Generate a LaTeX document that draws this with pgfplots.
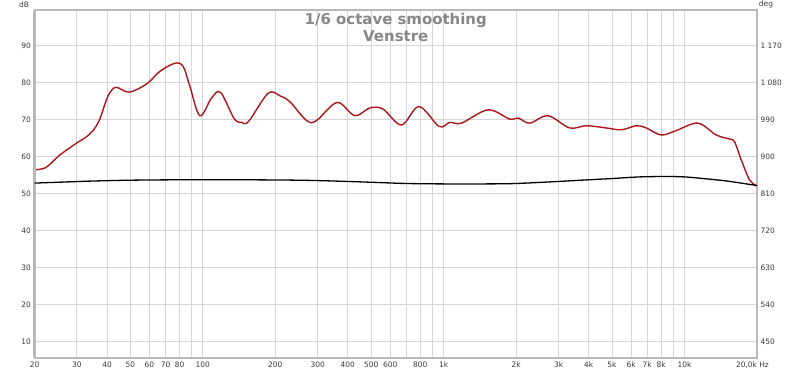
\documentclass[border=0pt]{standalone}
\usepackage{pgfplots}
\pgfplotsset{compat=1.18}
\usepackage{fontspec}
\setmainfont{DejaVu Sans}
\definecolor{curvered}{RGB}{172,22,28}
\definecolor{gridgray}{RGB}{214,214,214}
\definecolor{framegray}{RGB}{185,185,185}
\definecolor{titlegray}{RGB}{135,135,135}
\definecolor{labelgray}{RGB}{55,55,55}

\pgfplotstableread{
f dB
20 56.5
22.3 57.1
25.5 60.5
29.9 63.7
33.0 65.5
35.5 67.6
37.4 70.3
39.0 73.8
40.8 77.0
43.6 78.8
49.5 77.5
58.4 79.7
66.3 83.1
76.6 85.3
82.9 84.4
88.4 79.0
97.2 71.1
108.7 75.9
118.5 77.4
135 70.3
145 69.3
155 69.6
186.7 77.2
208.8 76.5
229.7 74.9
269.6 69.8
296.5 69.8
361 74.7
427.6 71.1
493 73.2
560 72.9
667.8 68.6
790 73.6
957 68.2
1060 69.3
1185 69.1
1528 72.7
1880 70.2
2035 70.5
2276 69.1
2711 71.1
3334 67.8
3911 68.4
4734 67.8
5465 67.3
6308 68.4
6935 67.8
8006 65.9
9241 67.1
11360 69.1
13540 65.9
15380 64.8
16130 64.1
17190 59.2
18620 53.8
20000 52.0
}\magdata

\pgfplotstableread{
f deg
20 836
25 838
35 841
50 843
80 844
150 844
250 843
350 841
500 838
700 835
1000 834
1500 834
2000 835
3000 840
4000 844
5000 847
6500 851
8500 852
10000 851
11500 848
15000 841
20000 830
}\phasedata

\begin{document}
\begin{tikzpicture}
\useasboundingbox (0,0) rectangle (800bp,373bp);
\begin{axis}[
  at={(34.5bp,14.7bp)}, anchor=south west,
  scale only axis, width=722.5bp, height=348.3bp,
  xmode=log, xmin=20, xmax=20000,
  ymin=5.5, ymax=99.7,
  xtick={20,30,40,50,60,70,80,100,200,300,400,500,600,800,1000,2000,3000,4000,5000,6000,7000,8000,10000,20000},
  xticklabels={20,30,40,50,60,70,80,100,200,300,400,500,600,800,1k,2k,3k,4k,5k,6k,7k,8k,10k,{\llap{20,0k}\rlap{ Hz}}},
  minor xtick={90,700,900,9000},
  ytick={10,20,...,90},
  yticklabels={10,20,30,40,50,60,70,80,90},
  grid=both,
  major grid style={gridgray, line width=0.9bp},
  minor grid style={gridgray, line width=0.9bp},
  major tick length=0pt, minor tick length=0pt,
  axis line style={framegray, line width=1.5bp},
  tick label style={font=\fontsize{7.5}{9}\selectfont, text=labelgray},
  /pgf/number format/assume math mode=true,
  title={1/6 octave smoothing\\Venstre},
  title style={at={(0.5,1)}, anchor=north, yshift=-9bp, inner sep=0pt, align=center,
    font=\fontsize{15}{17}\selectfont\bfseries, text=titlegray},
  after end axis/.code={
    \draw[framegray, line width=3bp] (rel axis cs:0,0) -- (rel axis cs:0,1);
    \draw[framegray, line width=2.2bp] (rel axis cs:0,0) -- (rel axis cs:1,0);
    \node[font=\fontsize{7.5}{9}\selectfont, text=labelgray] at (rel axis cs:0,1) [xshift=-10.5bp, yshift=5.5bp] {dB};
  },
]
\addplot[curvered, line width=1.4bp, smooth, tension=0.55] table[x=f, y=dB] {\magdata};
\end{axis}
\begin{axis}[
  at={(34.5bp,14.7bp)}, anchor=south west,
  scale only axis, width=722.5bp, height=348.3bp,
  xmode=log, xmin=20, xmax=20000,
  ymin=409.5, ymax=1257.3,
  hide x axis,
  axis y line*=right,
  y axis line style={framegray, line width=1.5bp},
  ytick={450,540,630,720,810,900,990,1080,1170},
  yticklabels={450,540,630,720,810,900,990,1 080,1 170},
  major tick length=0pt,
  tick label style={font=\fontsize{7.5}{9}\selectfont, text=labelgray},
  /pgf/number format/assume math mode=true,
  after end axis/.code={
    \node[font=\fontsize{7.5}{9}\selectfont, text=labelgray] at (rel axis cs:1,1) [xshift=9bp, yshift=5.5bp] {deg};
  },
]
\addplot[black, line width=1.3bp, smooth] table[x=f, y=deg] {\phasedata};
\end{axis}
\end{tikzpicture}
\end{document}
